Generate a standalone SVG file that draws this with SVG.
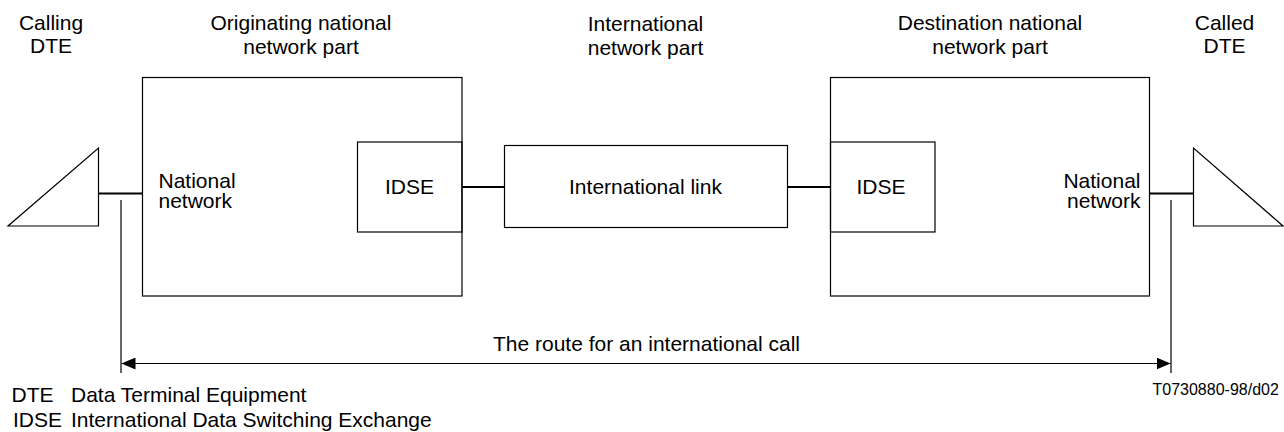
<svg xmlns="http://www.w3.org/2000/svg" width="1284" height="432" viewBox="0 0 1284 432">
<style>
text{font-family:"Liberation Sans",Arial,sans-serif;font-size:21px;fill:#000}
.c{text-anchor:middle}
.e{text-anchor:end}
.box{fill:none;stroke:#000;stroke-width:1.2}
.ln{fill:none;stroke:#000;stroke-width:1.8}
.thin{fill:none;stroke:#000;stroke-width:1.2}
.small{font-size:16px}
</style>
<defs>
<marker id="ah" markerWidth="14" markerHeight="12" refX="14" refY="6" orient="auto" markerUnits="userSpaceOnUse">
<path d="M0,0 L14,6 L0,12 Z" fill="#000"/>
</marker>
</defs>
<rect width="1284" height="432" fill="#fff"/>

<g id="labels-top">
<text class="c" x="51" y="30">Calling</text>
<text class="c" x="51" y="53">DTE</text>
<text class="c" x="301" y="30">Originating national</text>
<text class="c" x="301" y="54">network part</text>
<text class="c" x="645.5" y="31">International</text>
<text class="c" x="645.5" y="55">network part</text>
<text class="c" x="990" y="30">Destination national</text>
<text class="c" x="990" y="54">network part</text>
<text class="c" x="1224.5" y="30">Called</text>
<text class="c" x="1224.5" y="53">DTE</text>
</g>

<g id="calling-dte">
<path class="thin" d="M98.5,148 L98.5,226 L8,226 Z"/>
</g>

<g id="orig-network">
<rect class="box" x="142.5" y="77.5" width="319.5" height="218.5"/>
<text x="158.5" y="188">National</text>
<text x="158.5" y="207.5">network</text>
</g>

<g id="orig-idse">
<rect class="box" x="357.5" y="142" width="104.5" height="90"/>
<text class="c" x="409.5" y="194">IDSE</text>
</g>

<g id="intl-link">
<rect class="box" x="504.5" y="145.5" width="283" height="82"/>
<text class="c" x="645.5" y="194">International link</text>
</g>

<g id="dest-network">
<rect class="box" x="830.5" y="77.5" width="319" height="218.5"/>
<text class="e" x="1140.5" y="188">National</text>
<text class="e" x="1140.5" y="207.5">network</text>
</g>

<g id="dest-idse">
<rect class="box" x="830.5" y="142" width="104.5" height="90"/>
<text class="c" x="881" y="194">IDSE</text>
</g>

<g id="called-dte">
<path class="thin" d="M1193.5,148 L1193.5,226 L1283,226 Z"/>
</g>

<g id="connectors">
<line class="ln" x1="98.5" y1="193.5" x2="142.5" y2="193.5"/>
<line class="ln" x1="462" y1="187" x2="504.5" y2="187"/>
<line class="ln" x1="787.5" y1="187" x2="830.5" y2="187"/>
<line class="ln" x1="1149.5" y1="193.5" x2="1193.5" y2="193.5"/>
<line class="thin" x1="121" y1="200" x2="121" y2="373"/>
<line class="thin" x1="1171" y1="200" x2="1171" y2="373"/>
<line class="thin" x1="646" y1="363.5" x2="121.5" y2="363.5" marker-end="url(#ah)"/>
<line class="thin" x1="646" y1="363.5" x2="1170.5" y2="363.5" marker-end="url(#ah)"/>
<text class="c" x="646.5" y="351">The route for an international call</text>
</g>

<g id="legend">
<text x="11.5" y="402">DTE</text>
<text x="71" y="402">Data Terminal Equipment</text>
<text x="13" y="426.5">IDSE</text>
<text x="71" y="426.5">International Data Switching Exchange</text>
<text class="small" x="1152.5" y="395">T0730880-98/d02</text>
</g>
</svg>
